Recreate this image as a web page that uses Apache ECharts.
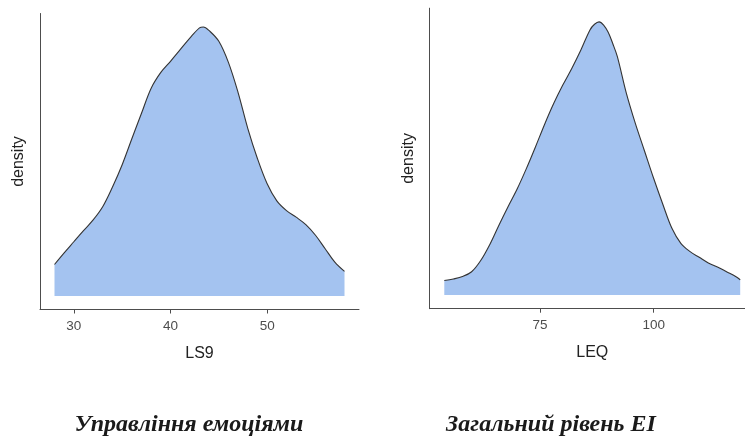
<!DOCTYPE html>
<html>
<head>
<meta charset="utf-8">
<script src="https://cdn.jsdelivr.net/npm/echarts@6/dist/echarts.min.js"></script>
<style>
  html, body { margin: 0; padding: 0; background: #ffffff; overflow: hidden; }
  #chart { width: 755px; height: 439px; }
</style>
</head>
<body>
<div id="chart"></div>
<script>
// Kernel density estimate of LS9 (emotion management score)
const ls9X = [28, 29, 30, 31, 32, 33, 34, 35, 36, 37, 38, 39, 40, 41, 42, 43, 43.4, 44, 45, 46, 47, 48, 49, 50, 51, 52, 53, 54, 55, 56, 57, 58];
const ls9Density = [0.0068, 0.0093, 0.0117, 0.0141, 0.0164, 0.0193, 0.0235, 0.0283, 0.0339, 0.0394, 0.0448, 0.0482, 0.0506, 0.0531, 0.0556, 0.0578, 0.0580, 0.0572, 0.0549, 0.0503, 0.0438, 0.0361, 0.0296, 0.0242, 0.0205, 0.0184, 0.0170, 0.0154, 0.0131, 0.0102, 0.0073, 0.0053];
const ls9Ticks = [30, 40, 50];

// Kernel density estimate of LEQ (overall EI level)
const leqX = [54, 56, 58, 60, 62, 64, 66, 68, 70, 72, 74, 76, 78, 80, 82, 84, 86, 87, 88, 89, 90, 91, 92, 94, 96, 98, 100, 102, 104, 106, 108, 110, 112, 114, 116, 118, 119];
const leqDensity = [0.0018, 0.0020, 0.0023, 0.0029, 0.0043, 0.0063, 0.0087, 0.0110, 0.0132, 0.0157, 0.0184, 0.0212, 0.0238, 0.0261, 0.0282, 0.0305, 0.0330, 0.0337, 0.0340, 0.0336, 0.0327, 0.0313, 0.0297, 0.0251, 0.0213, 0.0179, 0.0145, 0.0113, 0.0083, 0.0064, 0.0054, 0.0047, 0.0040, 0.0035, 0.0029, 0.0023, 0.0019];
const leqTicks = [75, 100];

const captions = ['Управління емоціями', 'Загальний рівень EI'];

const AXIS_COLOR = '#4d4d4d';
const FILL = '#a4c3f0';
const LINE = '#333333';

// 5% padding on each side of the data range, as in ggplot defaults
function padded(arr) {
  const lo = Math.min(...arr), hi = Math.max(...arr);
  const d = (hi - lo) * 0.05;
  return [lo - d, hi + d];
}
function densityRange(arr) {
  const hi = Math.max(...arr);
  return [-hi * 0.05, hi * 1.05];
}

function xAxisFor(gridIndex, xs, ticks, name) {
  const [mn, mx] = padded(xs);
  return {
    type: 'value', gridIndex, min: mn, max: mx, name,
    nameLocation: 'middle', nameGap: 36,
    nameTextStyle: { fontFamily: 'Liberation Sans', fontSize: 16, color: '#222222' },
    splitLine: { show: false },
    axisLine: { show: true, onZero: false, lineStyle: { color: AXIS_COLOR, width: 1 } },
    axisTick: { show: true, length: 4, lineStyle: { color: AXIS_COLOR }, customValues: ticks },
    axisLabel: { show: true, margin: 10, fontFamily: 'Liberation Sans', fontSize: 13.5, color: AXIS_COLOR, customValues: ticks }
  };
}
function yAxisFor(gridIndex, ys) {
  const [mn, mx] = densityRange(ys);
  return {
    type: 'value', gridIndex, min: mn, max: mx, name: 'density',
    nameLocation: 'middle', nameGap: 13, nameRotate: 90,
    nameTextStyle: { fontFamily: 'Liberation Sans', fontSize: 16, color: '#222222' },
    splitLine: { show: false },
    axisLine: { show: true, lineStyle: { color: AXIS_COLOR, width: 1 } },
    axisTick: { show: false },
    axisLabel: { show: false }
  };
}
function densitySeries(idx, xs, ys) {
  return {
    type: 'line', xAxisIndex: idx, yAxisIndex: idx,
    data: xs.map((x, i) => [x, ys[i]]),
    smooth: 0.35, showSymbol: false, symbol: 'none',
    lineStyle: { color: LINE, width: 1.1 },
    areaStyle: { color: FILL, opacity: 1 },
    silent: true, animation: false
  };
}

function caption(text, cx) {
  return {
    type: 'text', x: cx, y: 425,
    style: {
      text, align: 'center', verticalAlign: 'middle',
      font: 'italic bold 24px "Liberation Serif"', fill: '#1a1a1a'
    }
  };
}

const chart = echarts.init(document.getElementById('chart'), null, { renderer: 'canvas' });
chart.setOption({
  backgroundColor: '#ffffff',
  animation: false,
  grid: [
    { left: 40, right: 396, top: 13.5, bottom: 129.5 },
    { left: 429.5, right: 0, top: 8.2, bottom: 130.3 }
  ],
  xAxis: [
    xAxisFor(0, ls9X, ls9Ticks, 'LS9'),
    xAxisFor(1, leqX, leqTicks, 'LEQ')
  ],
  yAxis: [
    yAxisFor(0, ls9Density),
    yAxisFor(1, leqDensity)
  ],
  series: [
    densitySeries(0, ls9X, ls9Density),
    densitySeries(1, leqX, leqDensity)
  ],
  graphic: [
    caption(captions[0], 189),
    caption(captions[1], 551)
  ]
});
</script>
</body>
</html>
